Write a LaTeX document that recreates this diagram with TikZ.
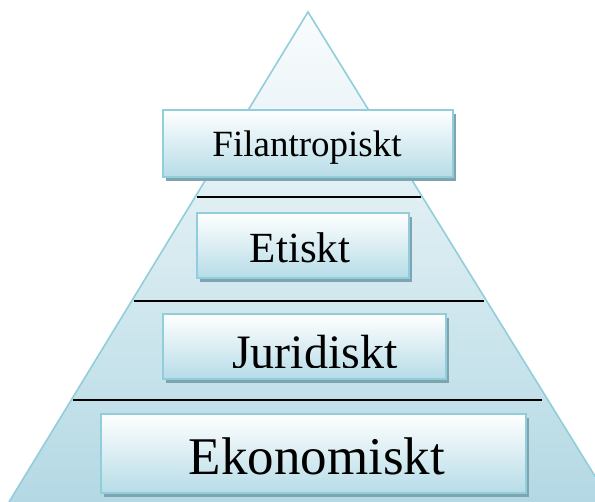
\documentclass[tikz,border=0pt]{standalone}
\usepackage{fontspec}
\setmainfont{Liberation Serif}
\usetikzlibrary{shadows}
\definecolor{edgeblue}{HTML}{92CDDC}
\definecolor{pyrtop}{HTML}{FAFCFD}
\definecolor{pyrbot}{HTML}{B4D9E4}
\definecolor{boxbot}{HTML}{B6DCE7}
\definecolor{shadowc}{HTML}{7EA4AF}
\tikzset{
  levelbox/.style={draw=edgeblue, line width=1.6pt, top color=white, bottom color=boxbot,
    inner sep=0pt, drop shadow={shadow xshift=3pt, shadow yshift=-4pt, fill=shadowc, opacity=1}},
  levelsep/.style={draw=black, line width=1.2pt},
  label/.style={anchor=base, inner sep=0pt, text=black}
}
\begin{document}
\begin{tikzpicture}[x=1pt,y=-1pt]
\useasboundingbox (0,0) rectangle (595,502);
\clip (0,0) rectangle (595,502);
% pyramid body
\coordinate (apex) at (308,12);
\coordinate (bl) at (9,502);
\coordinate (br) at (611,502);
\shade[top color=pyrtop, bottom color=pyrbot] (apex) -- (bl) -- (br) -- cycle;
\draw[edgeblue, line width=1.6pt, line join=miter] (bl) -- (apex) -- (br);
% separators between the levels
\coordinate (s1l) at (197,197); \coordinate (s1r) at (421,197);
\coordinate (s2l) at (134,301); \coordinate (s2r) at (484,301);
\coordinate (s3l) at (73,400);  \coordinate (s3r) at (542,400);
\draw[levelsep] (s1l) -- (s1r);
\draw[levelsep] (s2l) -- (s2r);
\draw[levelsep] (s3l) -- (s3r);
% level boxes
\node[levelbox, minimum width=290pt, minimum height=67pt] (bfil) at (308,143.5) {};
\node[levelbox, minimum width=212pt, minimum height=65pt] (beti) at (303,245.5) {};
\node[levelbox, minimum width=283pt, minimum height=65pt] (bjur) at (304.5,346.5) {};
\node[levelbox, minimum width=425pt, minimum height=79pt] (beko) at (313.5,453.5) {};
% labels
\node[label, font=\fontsize{37}{40}\selectfont] (tfil) at (307,157) {Filantropiskt};
\node[label, font=\fontsize{43}{46}\selectfont] (teti) at (300,263) {Etiskt};
\begin{scope}
  \clip (160,316) rectangle (450,368);
  \node[label, font=\fontsize{48}{52}\selectfont] (tjur) at (315,369) {Juridiskt};
\end{scope}
\node[label, font=\fontsize{53}{56}\selectfont] (teko) at (317,475) {Ekonomiskt};
\end{tikzpicture}
\end{document}
